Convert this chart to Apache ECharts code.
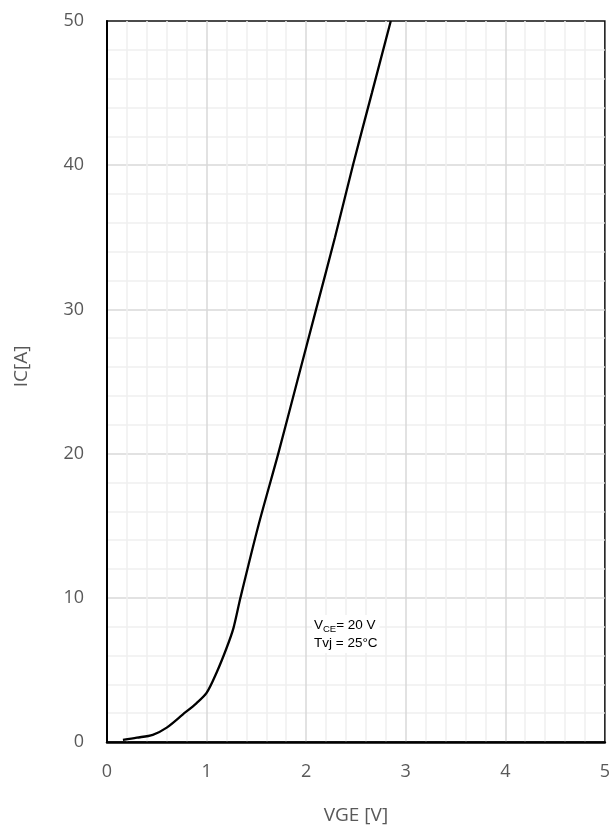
<!DOCTYPE html>
<html>
<head>
<meta charset="utf-8">
<script src="https://cdn.jsdelivr.net/npm/echarts@6/dist/echarts.min.js"></script>
<style>
  html, body { margin: 0; padding: 0; background: #fff; }
  #chart { width: 613px; height: 830px; }
</style>
</head>
<body>
<div id="chart"></div>
<script>
const FONT = '"Open Sans", "Noto Sans", sans-serif';
const ARIAL = '"Liberation Sans", Arial, sans-serif';

// transfer characteristic
const vge = [0.16, 0.30, 0.46, 0.60, 0.76, 0.90, 1.00, 1.10, 1.20, 1.27, 1.34, 1.52, 1.72, 1.91, 2.10, 2.29, 2.47, 2.66, 2.85];
const ic  = [0.15, 0.30, 0.50, 1.00, 1.90, 2.70, 3.40, 4.80, 6.50, 7.90, 10.0, 15.0, 20.0, 25.0, 30.0, 35.0, 40.0, 45.0, 50.0];

const xTicks = [0, 1, 2, 3, 4, 5];
const yTicks = [0, 10, 20, 30, 40, 50];

const chart = echarts.init(document.getElementById('chart'), null, { renderer: 'canvas' });

const split = { show: true, showMinLine: false, showMaxLine: false, lineStyle: { color: '#d9d9d9', width: 1.5 } };
const minorSplit = { show: true, lineStyle: { color: '#f0f0f0', width: 1.5 } };

chart.setOption({
    animation: false,
    grid: {
        left: 107, right: 6, top: 21, bottom: 87,
        show: true, borderColor: '#111', borderWidth: 1.5, backgroundColor: '#fff',
    },
    xAxis: {
        type: 'value',
        min: xTicks[0], max: xTicks[xTicks.length - 1], interval: 1,
        name: 'VGE [V]',
        nameLocation: 'middle',
        nameGap: 64,
        nameTextStyle: { fontFamily: FONT, fontSize: 19, color: '#595959' },
        axisLine: { show: true, lineStyle: { color: '#000', width: 2.5 } },
        axisTick: { show: false },
        axisLabel: { fontFamily: FONT, fontSize: 18, color: '#595959', margin: 21 },
        splitLine: split,
        minorTick: { show: false, splitNumber: 5 },
        minorSplitLine: minorSplit,
    },
    yAxis: {
        type: 'value',
        min: yTicks[0], max: yTicks[yTicks.length - 1], interval: 10,
        name: 'IC[A]',
        nameLocation: 'middle',
        nameGap: 76,
        nameTextStyle: { fontFamily: FONT, fontSize: 19, color: '#595959', padding: [0, 0, 0, 30] },
        axisLine: { show: true, lineStyle: { color: '#000', width: 2 } },
        axisTick: { show: false },
        axisLabel: { fontFamily: FONT, fontSize: 18, color: '#595959', margin: 23 },
        splitLine: split,
        minorTick: { show: false, splitNumber: 5 },
        minorSplitLine: minorSplit,
    },
    graphic: [{
        type: 'text',
        left: 312,
        top: 615,
        z: 100,
        style: {
            text: '{v|V}{sub|CE}{v|= 20 V}\n{v|Tvj = 25°C}',
            backgroundColor: '#fff',
            padding: [1, 2],
            rich: {
                v: { fontFamily: ARIAL, fontSize: 13.5, color: '#000', lineHeight: 18 },
                sub: { fontFamily: ARIAL, fontSize: 9.5, color: '#000', lineHeight: 18, verticalAlign: 'bottom', padding: [4, 0, 0, 0] },
            },
        },
    }],
    series: [{
        type: 'line',
        data: vge.map((v, i) => [v, ic[i]]),
        showSymbol: false,
        smooth: 0.3,
        lineStyle: { color: '#000', width: 2.3 },
        z: 5,
    }],
});
</script>
</body>
</html>
